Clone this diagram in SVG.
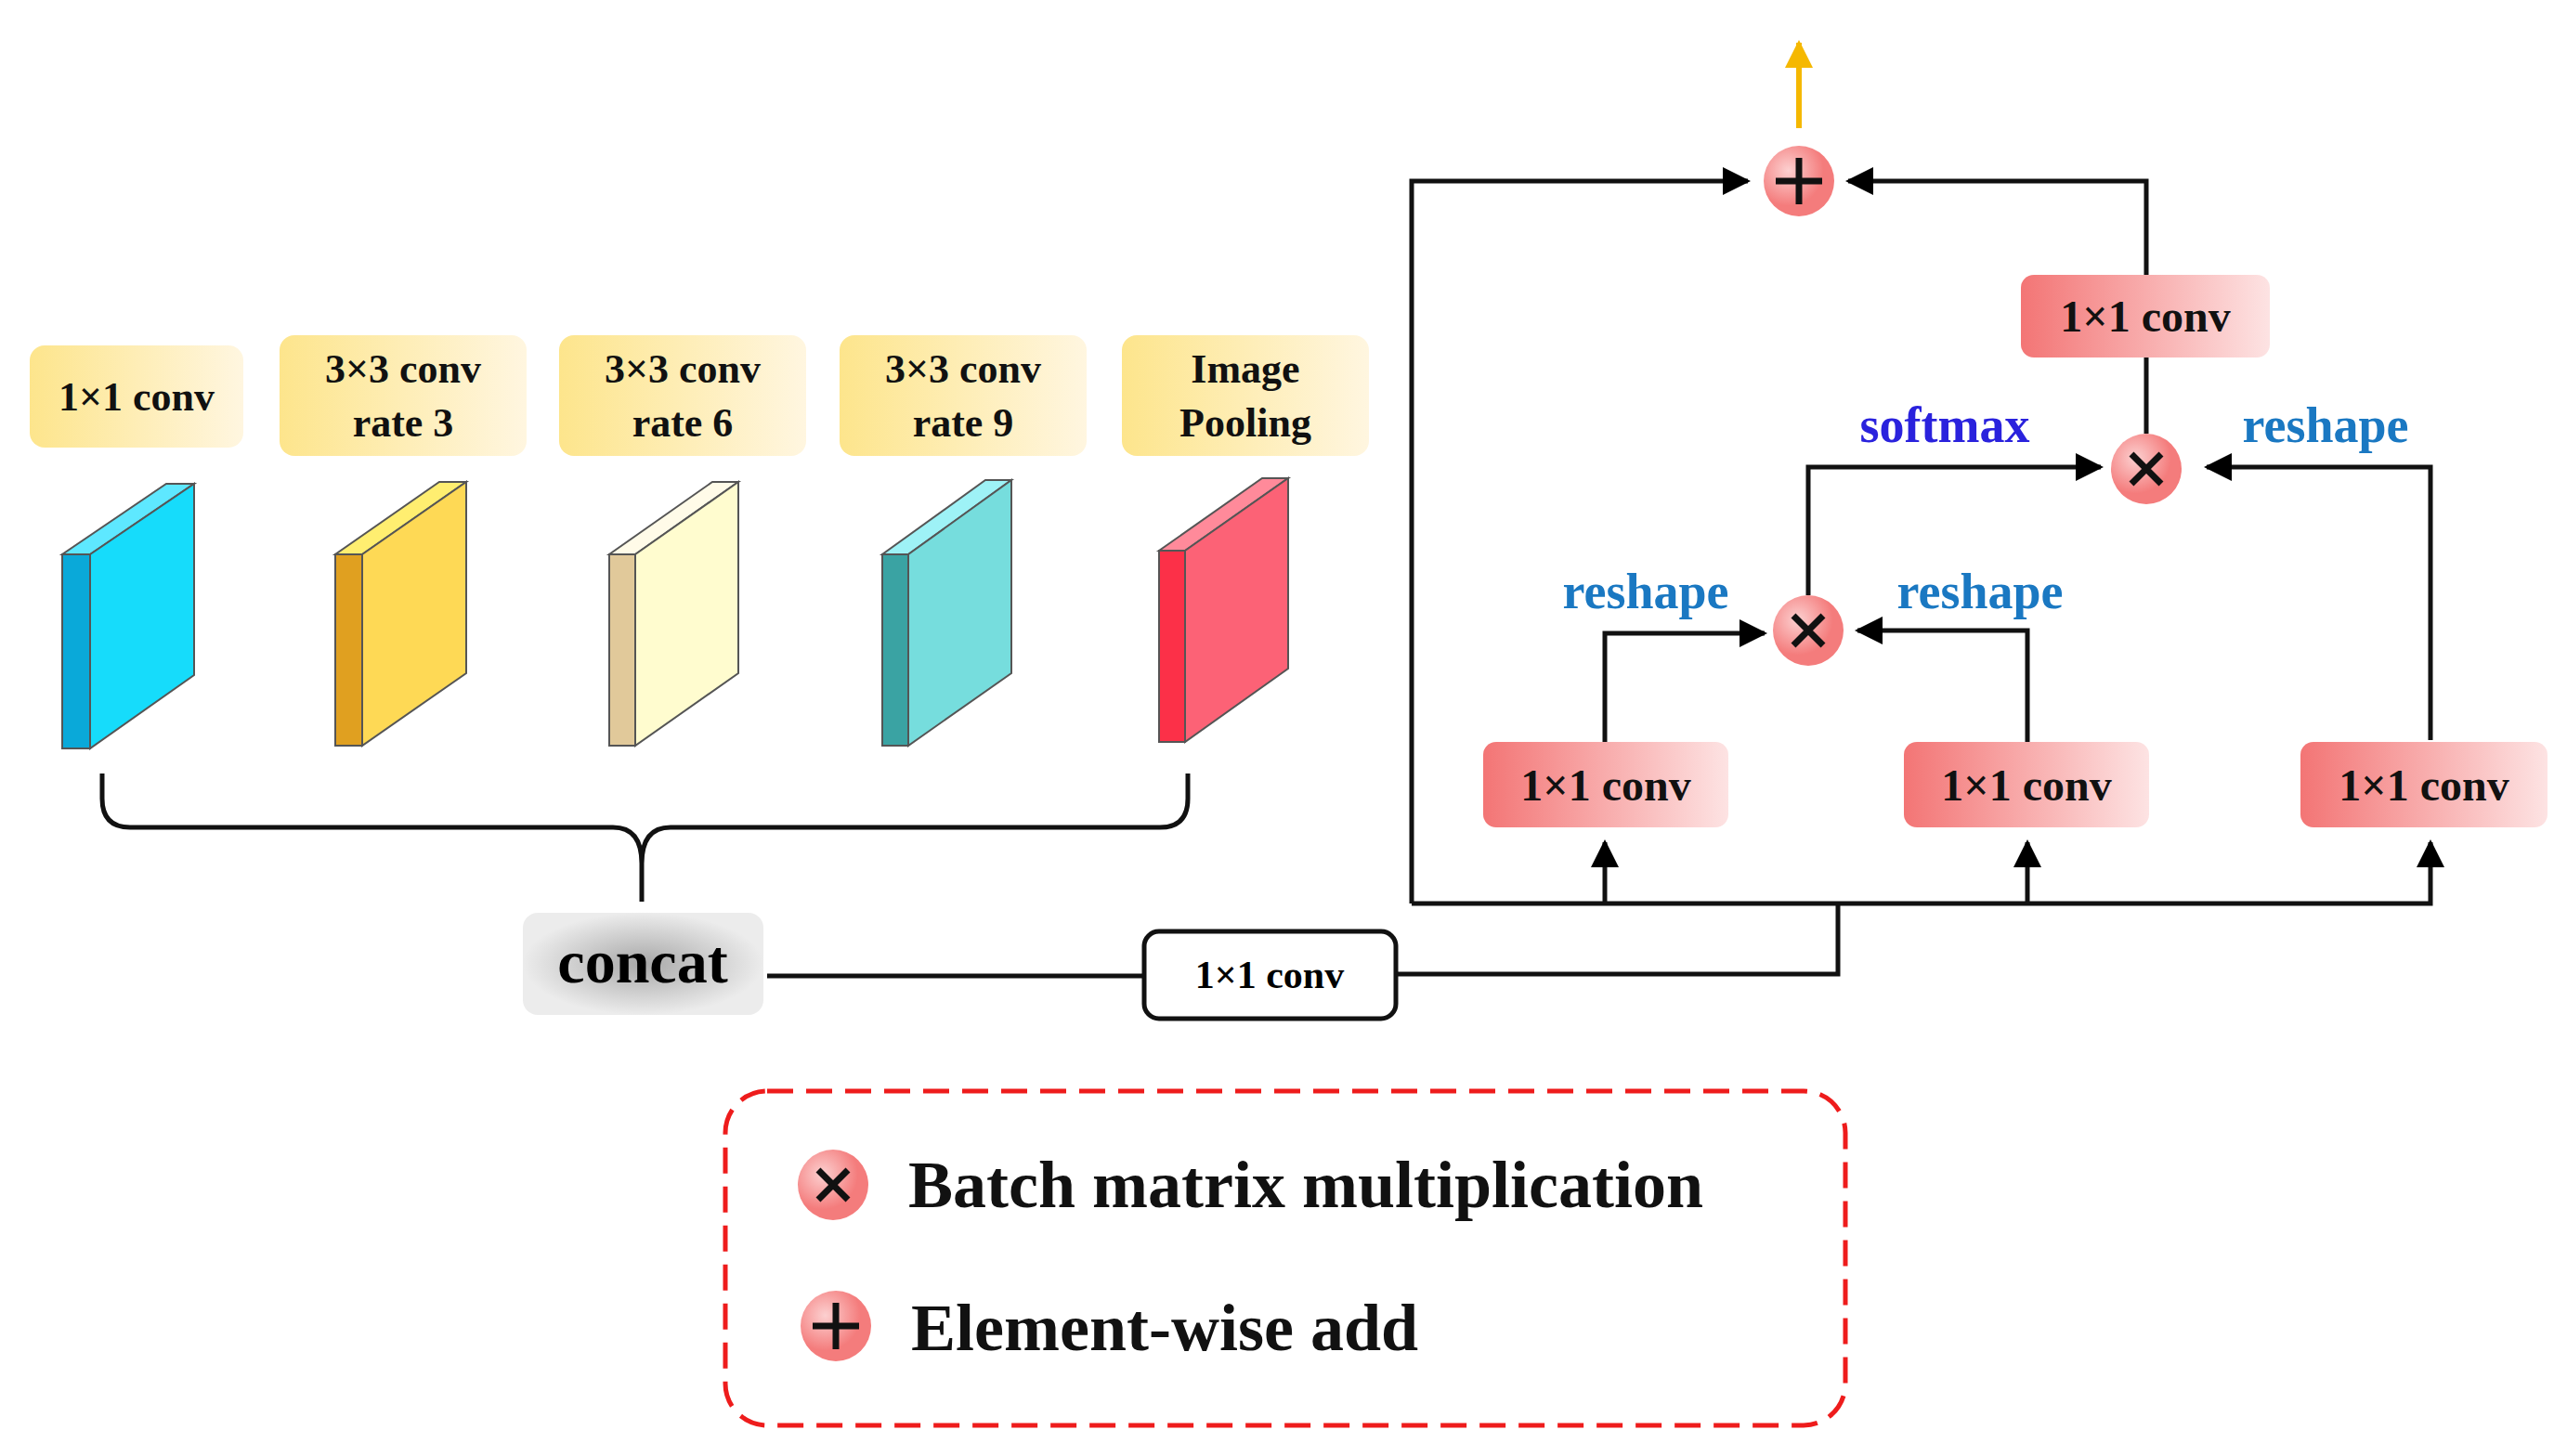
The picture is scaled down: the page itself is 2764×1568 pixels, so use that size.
<svg xmlns="http://www.w3.org/2000/svg" width="2764" height="1568" viewBox="0 0 2764 1568">
<defs>
<linearGradient id="yg" x1="0" x2="1" y1="0" y2="0"><stop offset="0" stop-color="#fde58c"/><stop offset="1" stop-color="#fff6e0"/></linearGradient>
<linearGradient id="rg" x1="0" x2="1" y1="0" y2="0"><stop offset="0" stop-color="#f37575"/><stop offset="1" stop-color="#fde3e3"/></linearGradient>
<radialGradient id="gg"><stop offset="0" stop-color="#a8a8a8"/><stop offset="1" stop-color="#ececec"/></radialGradient>
<radialGradient id="cg" cx="0.35" cy="0.35"><stop offset="0" stop-color="#fcd0d0"/><stop offset="1" stop-color="#f47c7c"/></radialGradient>
<marker id="ah" viewBox="0 0 10 10" refX="9" refY="5" markerWidth="6" markerHeight="6" markerUnits="strokeWidth" orient="auto"><path d="M0,0 L10,5 L0,10 z" fill="#000"/></marker>
<marker id="oh" viewBox="0 0 10 10" refX="9" refY="5" markerWidth="5" markerHeight="5" markerUnits="strokeWidth" orient="auto"><path d="M0,0 L10,5 L0,10 z" fill="#f5b800"/></marker>
</defs>
<style>
text{font-family:"Liberation Serif","Times New Roman",serif;font-weight:bold;text-anchor:middle}
.yl{font-size:44px;fill:#111}
.rl{font-size:48px;fill:#111}
.bl{font-size:54px;fill:#1a78c2}
.ln{fill:none;stroke:#111;stroke-width:5}
.lg{font-size:72px;text-anchor:start;fill:#111}
.op{stroke:#111;stroke-width:7;fill:none}
</style>
<rect width="2764" height="1568" fill="#fff"/>
<g id="label1"><rect x="32" y="372" width="230" height="110" rx="16" fill="url(#yg)"/><text class="yl" x="147" y="442">1×1 conv</text></g>
<g id="label2"><rect x="301" y="361" width="266" height="130" rx="16" fill="url(#yg)"/><text class="yl" x="434" y="412">3×3 conv</text><text class="yl" x="434" y="470">rate 3</text></g>
<g id="label3"><rect x="602" y="361" width="266" height="130" rx="16" fill="url(#yg)"/><text class="yl" x="735" y="412">3×3 conv</text><text class="yl" x="735" y="470">rate 6</text></g>
<g id="label4"><rect x="904" y="361" width="266" height="130" rx="16" fill="url(#yg)"/><text class="yl" x="1037" y="412">3×3 conv</text><text class="yl" x="1037" y="470">rate 9</text></g>
<g id="label5"><rect x="1208" y="361" width="266" height="130" rx="16" fill="url(#yg)"/><text class="yl" x="1341" y="412">Image</text><text class="yl" x="1341" y="470">Pooling</text></g>
<g id="slab1" stroke="#555" stroke-width="2"><polygon points="67,597 97,597 209,521 179,521" fill="#5ee8ff"/><rect x="67" y="597" width="30" height="209" fill="#0aa9d9"/><polygon points="97,597 209,521 209,727 97,806" fill="#16dcfb"/></g>
<g id="slab2" stroke="#555" stroke-width="2"><polygon points="361,597 390,597 502,519 473,519" fill="#ffee70"/><rect x="361" y="597" width="29" height="206" fill="#e0a020"/><polygon points="390,597 502,519 502,725 390,803" fill="#fed955"/></g>
<g id="slab3" stroke="#555" stroke-width="2"><polygon points="656,597 684,597 795,519 767,519" fill="#fffbe8"/><rect x="656" y="597" width="28" height="206" fill="#e1c99a"/><polygon points="684,597 795,519 795,725 684,803" fill="#fffccf"/></g>
<g id="slab4" stroke="#555" stroke-width="2"><polygon points="950,597 978,597 1089,517 1061,517" fill="#9ef2f6"/><rect x="950" y="597" width="28" height="206" fill="#3aa3a3"/><polygon points="978,597 1089,517 1089,725 978,803" fill="#76dddd"/></g>
<g id="slab5" stroke="#555" stroke-width="2"><polygon points="1248,593 1276,593 1387,515 1359,515" fill="#ff8a9a"/><rect x="1248" y="593" width="28" height="206" fill="#fc3048"/><polygon points="1276,593 1387,515 1387,720 1276,799" fill="#fc6276"/></g>
<g id="concat"><rect x="563" y="983" width="259" height="110" rx="16" fill="url(#gg)"/><text x="692" y="1058" style="font-size:66px">concat</text></g>
<g id="conv0"><rect x="1232" y="1003" width="271" height="94" rx="16" fill="#fff" stroke="#111" stroke-width="5"/><text x="1367" y="1064" style="font-size:42px">1×1 conv</text></g>
<g id="conv1"><rect x="1597" y="799" width="264" height="92" rx="14" fill="url(#rg)"/><text class="rl" x="1729" y="862">1×1 conv</text></g>
<g id="conv2"><rect x="2050" y="799" width="264" height="92" rx="14" fill="url(#rg)"/><text class="rl" x="2182" y="862">1×1 conv</text></g>
<g id="conv3"><rect x="2477" y="799" width="266" height="92" rx="14" fill="url(#rg)"/><text class="rl" x="2610" y="862">1×1 conv</text></g>
<g id="conv4"><rect x="2176" y="296" width="268" height="89" rx="14" fill="url(#rg)"/><text class="rl" x="2310" y="357">1×1 conv</text></g>
<g id="add"><circle cx="1937" cy="195" r="38" fill="url(#cg)"/><path class="op" d="M1937,170 V220 M1912,195 H1962"/></g>
<g id="mul1"><circle cx="1947" cy="679" r="38" fill="url(#cg)"/><path class="op" d="M1931,663 L1963,695 M1963,663 L1931,695"/></g>
<g id="mul2"><circle cx="2311" cy="505" r="38" fill="url(#cg)"/><path class="op" d="M2295,489 L2327,521 M2327,489 L2295,521"/></g>
<g id="labels">
<text class="bl" x="1772" y="655">reshape</text>
<text class="bl" x="2132" y="655">reshape</text>
<text class="bl" x="2504" y="476">reshape</text>
<text class="bl" x="2094" y="476" style="fill:#2a22dd">softmax</text>
</g>
<g id="connectors">
<path class="ln" d="M110,833 V860 Q110,891 140,891 H660 Q691,891 691,930 V971 M1279,833 V860 Q1279,891 1249,891 H722 Q691,891 691,930"/>
<path class="ln" d="M826,1051 H1232"/>
<path class="ln" d="M1503,1049 H1979 V973"/>
<path class="ln" d="M1520,973 H2617 V907" marker-end="url(#ah)"/>
<path class="ln" d="M1728,973 V907" marker-end="url(#ah)"/>
<path class="ln" d="M2183,973 V907" marker-end="url(#ah)"/>
<path class="ln" d="M1520,973 V195 H1882" marker-end="url(#ah)"/>
<path class="ln" d="M2311,296 V195 H1990" marker-end="url(#ah)"/>
<path class="ln" d="M2311,385 V467"/>
<path class="ln" d="M1947,641 V503 H2262" marker-end="url(#ah)"/>
<path class="ln" d="M2617,797 V503 H2376" marker-end="url(#ah)"/>
<path class="ln" d="M1728,799 V682 H1900" marker-end="url(#ah)"/>
<path class="ln" d="M2183,799 V679 H2000" marker-end="url(#ah)"/>
<path d="M1937,138 V46" stroke="#f5b800" stroke-width="6" fill="none" marker-end="url(#oh)"/>
</g>
<g id="legend">
<rect x="781" y="1175" width="1206" height="360" rx="45" fill="none" stroke="#ee1c1c" stroke-width="5" stroke-dasharray="28,14"/>
<circle cx="897" cy="1276" r="38" fill="url(#cg)"/><path class="op" d="M881,1260 L913,1292 M913,1260 L881,1292"/>
<text class="lg" x="978" y="1300">Batch matrix multiplication</text>
<circle cx="900" cy="1428" r="38" fill="url(#cg)"/><path class="op" d="M900,1403 V1453 M875,1428 H925"/>
<text class="lg" x="981" y="1454">Element-wise add</text>
</g>
</svg>
